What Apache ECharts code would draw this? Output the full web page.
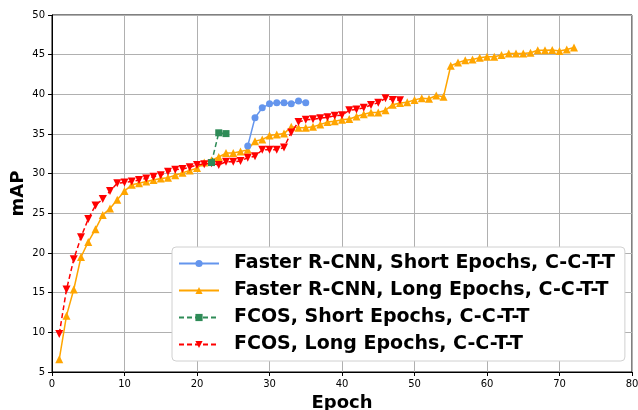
<!DOCTYPE html>
<html><head><meta charset="utf-8">
<script src="https://cdn.jsdelivr.net/npm/echarts@6/dist/echarts.min.js"></script>
<style>html,body{margin:0;padding:0;background:#fff}#c{width:638px;height:410px}</style>
</head><body><div id="c"></div>
<script>
const frcnnShortEpochs = [27,28,29,30,31,32,33,34,35];
const frcnnShortMAP = [33.5,37.05,38.3,38.8,38.95,38.95,38.8,39.15,38.95];
const frcnnLongEpochs = [1,2,3,4,5,6,7,8,9,10,11,12,13,14,15,16,17,18,19,20,21,22,23,24,25,26,27,28,29,30,31,32,33,34,35,36,37,38,39,40,41,42,43,44,45,46,47,48,49,50,51,52,53,54,55,56,57,58,59,60,61,62,63,64,65,66,67,68,69,70,71,72];
const frcnnLongMAP = [6.6,12.1,15.4,19.5,21.4,23.0,24.8,25.6,26.7,27.8,28.6,28.8,29.0,29.2,29.4,29.5,29.8,30.1,30.4,30.7,31.4,31.7,32.1,32.6,32.6,32.8,33.0,34.1,34.3,34.8,34.95,35.05,35.9,35.8,35.8,35.9,36.2,36.5,36.6,36.8,36.9,37.2,37.5,37.7,37.7,38.0,38.7,38.9,39.0,39.3,39.5,39.45,39.85,39.7,43.6,44.0,44.3,44.4,44.6,44.75,44.75,44.95,45.15,45.15,45.15,45.25,45.55,45.55,45.6,45.45,45.65,45.9];
const fcosShortEpochs = [22,23,24];
const fcosShortMAP = [31.4,35.15,35.05];
const fcosLongEpochs = [1,2,3,4,5,6,7,8,9,10,11,12,13,14,15,16,17,18,19,20,21,22,23,24,25,26,27,28,29,30,31,32,33,34,35,36,37,38,39,40,41,42,43,44,45,46,47,48];
const fcosLongMAP = [9.8,15.4,19.2,22.0,24.3,26.0,26.8,27.8,28.8,28.9,29.0,29.2,29.4,29.6,29.8,30.25,30.5,30.6,30.8,31.1,31.2,31.3,31.1,31.5,31.5,31.6,32.0,32.2,33.0,33.0,33.0,33.3,35.2,36.5,36.8,36.85,37.0,37.1,37.3,37.35,38.0,38.1,38.3,38.65,38.95,39.5,39.3,39.25];
const seriesNames = ['Faster R-CNN, Short Epochs, C-C-T-T','Faster R-CNN, Long Epochs, C-C-T-T','FCOS, Short Epochs, C-C-T-T','FCOS, Long Epochs, C-C-T-T'];

const zip = (a,b)=>a.map((v,i)=>[v,b[i]]);
const font = 'DejaVu Sans';
const chart = echarts.init(document.getElementById('c'));
chart.setOption({
  animation:false,
  textStyle:{fontFamily:font},
  grid:{left:52,right:6,top:15,bottom:38,show:true,borderColor:'#000',borderWidth:1,backgroundColor:'transparent',containLabel:false,outerBoundsMode:'none'},
  xAxis:{type:'value',min:0,max:80,interval:10,
    name:'Epoch',nameLocation:'middle',nameGap:19,
    nameTextStyle:{fontSize:18,fontWeight:'bold',color:'#000',fontFamily:font},
    axisLine:{lineStyle:{color:'#000',width:1}},
    axisTick:{show:true,inside:false,length:4,lineStyle:{color:'#000'}},
    axisLabel:{fontSize:10,color:'#000',margin:7,fontFamily:font},
    splitLine:{show:true,lineStyle:{color:'#b0b0b0',width:1}}},
  yAxis:{type:'value',min:5,max:50,interval:5,
    name:'mAP',nameLocation:'middle',nameGap:25,nameMoveOverlap:false,
    nameTextStyle:{fontSize:18,fontWeight:'bold',color:'#000',fontFamily:font},
    axisLine:{show:true,lineStyle:{color:'#000',width:1}},
    axisTick:{show:true,inside:false,length:4,lineStyle:{color:'#000'}},
    axisLabel:{fontSize:10,color:'#000',margin:7,fontFamily:font},
    splitLine:{show:true,lineStyle:{color:'#b0b0b0',width:1}}},
  legend:{orient:'vertical',left:172,top:247,
    backgroundColor:'#fff',borderColor:'#d0d0d0',borderWidth:1,borderRadius:4,
    padding:[7,10,7,6],itemGap:8,itemWidth:40,itemHeight:9,
    textStyle:{fontSize:19,fontWeight:'bold',color:'#000',fontFamily:font,padding:[0,0,0,10]},
    data:seriesNames},
  series:[
    {name:seriesNames[0],type:'line',data:zip(frcnnShortEpochs,frcnnShortMAP),
      symbol:'circle',symbolSize:7,itemStyle:{color:'#6495ED'},lineStyle:{color:'#6495ED',width:1.5},z:4},
    {name:seriesNames[1],type:'line',data:zip(frcnnLongEpochs,frcnnLongMAP),
      symbol:'triangle',symbolSize:8,itemStyle:{color:'#FFA500'},lineStyle:{color:'#FFA500',width:1.5},z:3},
    {name:seriesNames[2],type:'line',data:zip(fcosShortEpochs,fcosShortMAP),
      symbol:'rect',symbolSize:7,itemStyle:{color:'#2E8B57'},lineStyle:{color:'#2E8B57',width:1.5,type:[5,3]},z:5},
    {name:seriesNames[3],type:'line',data:zip(fcosLongEpochs,fcosLongMAP),
      symbol:'triangle',symbolRotate:180,symbolSize:8,itemStyle:{color:'#FF0000'},lineStyle:{color:'#FF0000',width:1.5,type:[5,3]},z:4}
  ]
});
</script></body></html>
